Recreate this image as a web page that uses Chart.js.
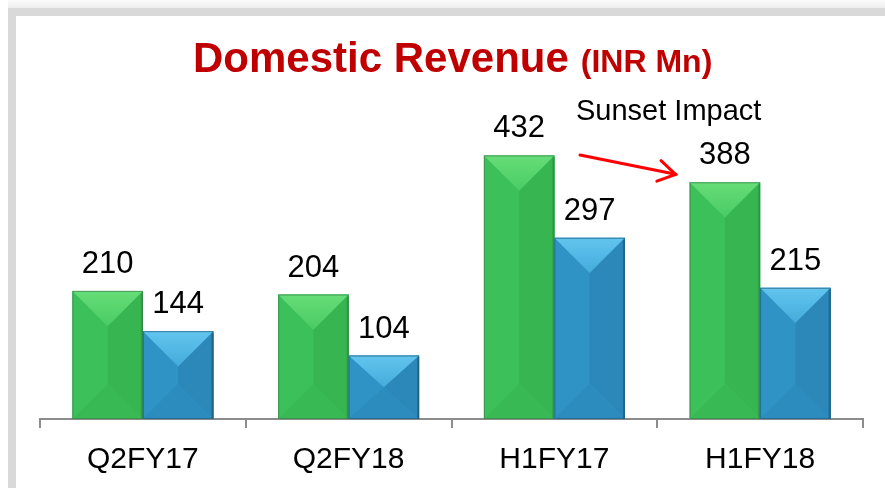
<!DOCTYPE html>
<html><head><meta charset="utf-8">
<script src="https://cdn.jsdelivr.net/npm/chart.js@4"></script>
<style>html,body{margin:0;padding:0;background:#fff}#wrap{width:885px;height:488px;position:relative}</style>
</head><body><div id="wrap"><canvas id="c" width="885" height="488"></canvas></div>
<script>
const categories = ['Q2FY17', 'Q2FY18', 'H1FY17', 'H1FY18'];
const seriesGreen = [210, 204, 432, 388];
const seriesBlue = [144, 104, 297, 215];
const yMin = 0;
const yMax = 600;
const titleMain = 'Domestic Revenue';
const titleUnit = '(INR Mn)';
const noteText = 'Sunset Impact';

const FONT = '"Liberation Sans", Arial, sans-serif';

const palettes = [
  {base:'#3cc15a', topA:'#66dd78', topB:'#4acb63', right:'#37b551', bottom:'#39b954', edge:'#2e9f45', line:'rgba(60,120,75,0.6)'},
  {base:'#2f93c5', topA:'#62c5ee', topB:'#44abdb', right:'#2b88b9', bottom:'#2c8cbe', edge:'#216e97', line:'rgba(30,85,115,0.6)'}
];

const framePlugin = {
  id:'frame',
  beforeDraw(chart){
    const ctx = chart.ctx;
    ctx.save();
    ctx.fillStyle = '#fff';
    ctx.fillRect(0,0,chart.width,chart.height);
    const g = ctx.createLinearGradient(0,0,0,8);
    g.addColorStop(0,'#fbfbfb'); g.addColorStop(1,'#eeeeee');
    ctx.fillStyle = g;
    ctx.fillRect(8,0,chart.width-8,8);
    ctx.fillStyle = '#d9d9d9';
    ctx.fillRect(8,8,chart.width-8,8);
    ctx.fillRect(8,8,8,chart.height-8);
    ctx.fillStyle = '#c00000';
    ctx.textBaseline = 'alphabetic';
    ctx.textAlign = 'left';
    ctx.font = 'bold 42px ' + FONT;
    const w1 = ctx.measureText(titleMain).width;
    const x1 = 193;
    ctx.fillText(titleMain, x1, 72);
    ctx.font = 'bold 32px ' + FONT;
    ctx.fillText(titleUnit, x1 + w1 + 12, 72);
    ctx.restore();
  }
};

const bevelPlugin = {
  id:'bevel',
  afterDatasetsDraw(chart){
    const ctx = chart.ctx;
    ctx.save();
    chart.data.datasets.forEach((ds, di) => {
      const p = palettes[di];
      chart.getDatasetMeta(di).data.forEach((el, idx) => {
        const w = el.width, x0 = el.x - w/2, x1 = el.x + w/2, y0 = el.y, yb = el.base, xc = el.x;
        const d = Math.min(w/2, (yb - y0)/2);
        ctx.fillStyle = p.base;
        ctx.fillRect(x0, y0, w, yb - y0);
        ctx.fillStyle = p.right;
        ctx.beginPath(); ctx.moveTo(xc, y0 + d); ctx.lineTo(x1, y0); ctx.lineTo(x1, yb); ctx.lineTo(xc, yb - d); ctx.closePath(); ctx.fill();
        ctx.fillStyle = p.bottom;
        ctx.beginPath(); ctx.moveTo(x0, yb); ctx.lineTo(x1, yb); ctx.lineTo(xc, yb - d); ctx.closePath(); ctx.fill();
        const g = ctx.createLinearGradient(0, y0, 0, y0 + d);
        g.addColorStop(0, p.topA); g.addColorStop(1, p.topB);
        ctx.fillStyle = g;
        ctx.beginPath(); ctx.moveTo(x0, y0); ctx.lineTo(x1, y0); ctx.lineTo(xc, y0 + d); ctx.closePath(); ctx.fill();
        ctx.fillStyle = p.edge;
        ctx.fillRect(x1 - 2, y0 + 2, 2, yb - y0 - 2);
        ctx.strokeStyle = p.line; ctx.lineWidth = 1;
        ctx.strokeRect(x0 + 0.5, y0 + 0.5, w - 1, yb - y0 - 1);
        ctx.fillStyle = '#000';
        ctx.font = '31px ' + FONT;
        ctx.textAlign = 'center';
        ctx.textBaseline = 'alphabetic';
        ctx.fillText(String(ds.data[idx]), el.x, y0 - 18);
      });
    });
    const greenH1b = chart.getDatasetMeta(0).data[3];
    ctx.fillStyle = '#000';
    ctx.font = '29px ' + FONT;
    ctx.textAlign = 'left';
    ctx.fillText(noteText, 576, 120);
    const sx = 580, sy = 155;
    const ex = greenH1b.x - greenH1b.width/2 - 14, ey = greenH1b.y - 8;
    ctx.strokeStyle = '#ff0000'; ctx.lineWidth = 3; ctx.lineCap = 'round';
    ctx.beginPath(); ctx.moveTo(sx, sy); ctx.lineTo(ex, ey); ctx.stroke();
    const ang = Math.atan2(ey - sy, ex - sx);
    const L = 20, spread = 0.55;
    ctx.beginPath();
    ctx.moveTo(ex - L*Math.cos(ang - spread), ey - L*Math.sin(ang - spread));
    ctx.lineTo(ex, ey);
    ctx.lineTo(ex - L*Math.cos(ang + spread), ey - L*Math.sin(ang + spread));
    ctx.stroke();
    ctx.restore();
  }
};

new Chart(document.getElementById('c'), {
  type:'bar',
  data:{
    labels: categories,
    datasets:[
      {label:'Green', data: seriesGreen, backgroundColor:'#3cc15a', borderWidth:0},
      {label:'Blue', data: seriesBlue, backgroundColor:'#2f93c5', borderWidth:0}
    ]
  },
  options:{
    responsive:false,
    animation:false,
    layout:{padding:{left:40, right:22, top:53, bottom:0}},
    plugins:{legend:{display:false}, title:{display:false}, tooltip:{enabled:false}},
    datasets:{bar:{categoryPercentage:0.685, barPercentage:1.0}},
    scales:{
      x:{
        offset:true,
        grid:{display:true, offset:true, drawOnChartArea:false, drawTicks:true, tickLength:9, color:'#8c8c8c', lineWidth:2},
        border:{display:true, color:'#8c8c8c', width:2},
        ticks:{color:'#000', padding:14, font:{family:FONT, size:30}},
        afterFit(scale){ scale.height = 69; }
      },
      y:{display:false, min:yMin, max:yMax}
    }
  },
  plugins:[framePlugin, bevelPlugin]
});
</script>
</body></html>
